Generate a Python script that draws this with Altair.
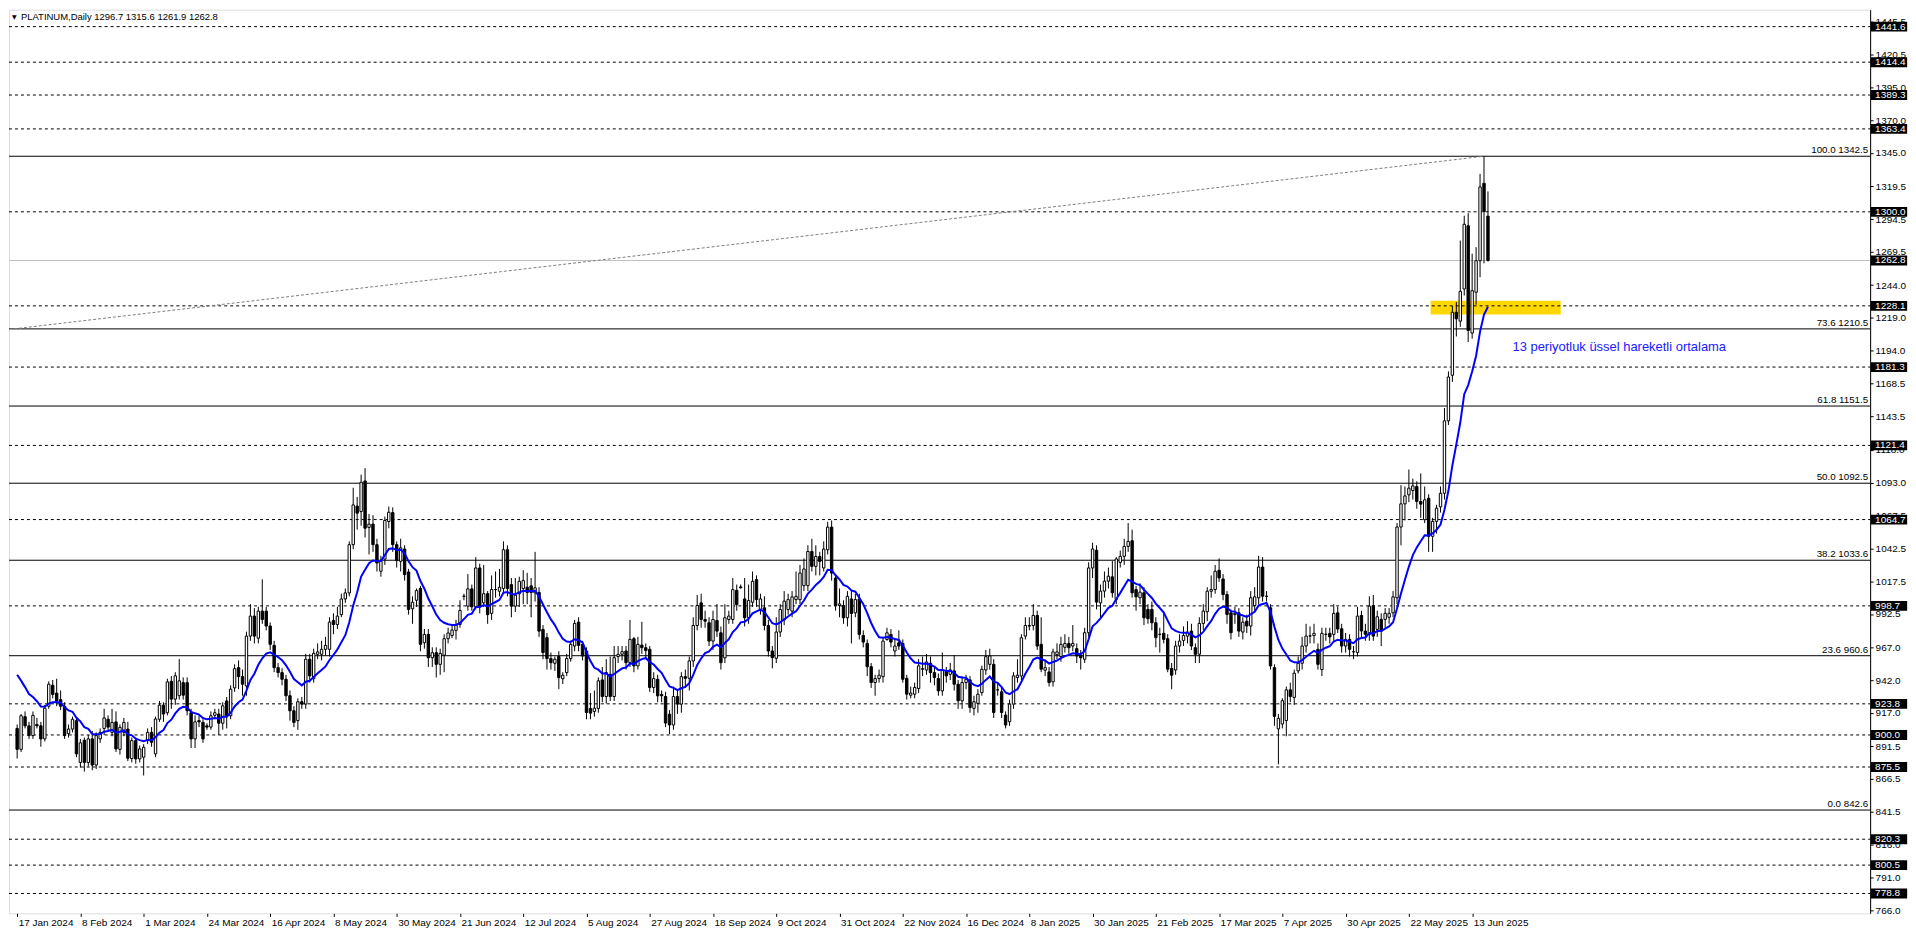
import altair as alt
import pandas as pd

# ---------------- data ----------------
OPEN = [
    905, 889, 914, 907, 899.5, 908, 907, 897, 922, 938,
    932, 927, 922, 901, 904.5, 911, 879, 896, 879, 897,
    877, 897, 905, 912, 902, 910, 889, 902, 904.5, 882,
    895.7, 881.7, 883, 895.7, 902, 885.5, 912, 922.8, 917, 941,
    927.4, 930, 940, 940, 917, 897, 911, 909.6, 907, 906,
    915, 916, 909, 926, 914.7, 936, 951.5, 944.6, 937.5, 975.6,
    990.9, 974, 994.7, 994.7, 983.3, 968.5, 951.5, 947.7, 942.6, 930,
    918.5, 911, 925.4, 923.6, 957.9, 943, 961.7, 961.7, 965.5, 965.5,
    987.5, 984.5, 992, 1004, 1008.6, 1045.5, 1075, 1070.8, 1094.2, 1058.7,
    1061.2, 1045.5, 1025.2, 1034.5, 1063.2, 1070, 1045.5, 1032.8, 1042.2, 1024.6,
    996.5, 1003, 1012, 970.5, 976.9, 959.1, 962.9, 954, 961, 973.6,
    976, 980, 984.5, 1006, 998.5, 1011.7, 998, 1027.7, 1001, 1008,
    993, 1011.2, 1009.9, 1012, 1041.6, 1015, 998.5, 1008, 1012, 1013,
    1014, 1008.6, 1009, 980.7, 974.4, 958.4, 954.8, 960, 943, 947.7,
    958.4, 968, 986.3, 969.3, 964.2, 920.3, 918, 920.3, 942.1, 929.4,
    946.4, 929.4, 960, 961.7, 964.2, 955.3, 973.6, 952.8, 968.7, 966.7,
    965.5, 936.3, 942.6, 931, 929.4, 915.9, 907.6, 929.4, 923.6, 944.6,
    943.3, 956.6, 983.7, 1001, 988.3, 985.8, 971.8, 987.5, 978.1, 959,
    988.3, 988.3, 1010.6, 1013.2, 1004, 989.6, 1001.5, 1018.8, 995.9, 997.2,
    983.7, 964.2, 958.6, 978.7, 988, 995.9, 994.7, 1003.5, 1003.5, 1014.2,
    1014.2, 1040.3, 1028.9, 1036.5, 1027.7, 1041.6, 1058.9, 1020, 999, 999,
    989.6, 1004, 993.4, 1004, 976.1, 970, 952.2, 940.1, 943.1, 944.6,
    973, 976.9, 964.2, 970.5, 970, 943.3, 930.4, 931.2, 935.5, 950.2,
    949.7, 954.8, 947.7, 943.1, 933.7, 948.2, 946.4, 949, 938.8, 926.1,
    940.1, 942.1, 920.3, 924.1, 932.4, 949.7, 954, 954, 934.5, 933,
    915.2, 910.1, 923.6, 943.9, 945.1, 975.6, 983.2, 983.7, 991.4, 969.3,
    949.5, 948.2, 940.6, 961.4, 960, 967, 970, 968, 966, 960.9,
    957.9, 978.2, 1027.7, 1041.2, 1001, 1010, 1017.6, 1020.9, 1003.6, 1032,
    1036.6, 1044.2, 1048.5, 1011.2, 1004.9, 1008.7, 996, 996, 985.8, 976.9,
    977.7, 973.6, 950.8, 949.7, 968, 972.3, 975.6, 979.4, 966.7, 961.7,
    985.3, 994.2, 1009.9, 1011.2, 1025.9, 1019.3, 1007.4, 993.4, 992, 993.4,
    978.7, 987, 983.3, 999, 1004.9, 1028.4, 1006, 997.2, 951.5, 904.7,
    908.4, 911, 934.5, 928.7, 949, 954.8, 968, 975.6, 976, 965.5,
    950, 976.9, 977.7, 976.9, 993.4, 981.2, 968, 973.1, 963.5, 963,
    991.4, 979.4, 976.9, 999, 980.7, 988.4, 988.4, 990, 993.4, 1004.9,
    1059, 1076.7, 1083.6, 1086.9, 1090, 1078.5, 1064.6, 1081, 1051.9, 1063.3,
    1074.4, 1084.8, 1140.2, 1175, 1223.2, 1216.4, 1241, 1289.3, 1207.3, 1238.5,
    1262.6, 1321.8, 1296.7,
]
HIGH = [
    908, 916, 918, 910, 918, 913, 910, 923, 941, 942,
    943, 934, 925, 908, 914, 913, 897, 898, 900, 903,
    902, 905, 920, 915, 920, 918, 908, 913, 910, 898,
    898, 892, 893, 905, 906, 914, 926, 925, 943, 945,
    948, 958, 944, 944, 920, 915, 915, 912, 909, 918,
    920, 920, 925, 929, 938, 954, 957, 950, 979, 1000,
    997, 998, 1019, 998, 986, 972, 955, 951, 946, 934,
    922, 928, 929, 962, 962, 966, 970, 972, 975, 990,
    993, 998, 1008, 1012, 1048, 1089, 1082, 1099, 1104, 1069,
    1068, 1050, 1037, 1067, 1074.7, 1074, 1048, 1050, 1045, 1027,
    1006, 1012, 1014, 981, 981, 967, 967, 966, 977, 982,
    984, 988, 1003, 1008, 1023, 1015, 1036, 1031, 1030, 1010,
    1022, 1025, 1027, 1048, 1045, 1020, 1020, 1021, 1026, 1024,
    1020, 1040, 1013, 984, 978, 963, 960, 964, 948, 962,
    972, 988, 990, 972, 967, 932, 934, 944, 952, 958,
    960, 968, 968, 968, 968, 988, 975, 975, 986.5, 970,
    968, 948, 946, 934, 933, 919, 937, 935, 948, 950,
    960, 990, 1007, 1008, 995, 990, 995, 1000, 983, 1000,
    995, 1020, 1015, 1015, 1020, 1015, 1025, 1022, 1008, 1006,
    988, 968, 990, 1000, 1010, 1008, 1010, 1025, 1030, 1035,
    1045, 1050, 1045, 1040, 1048, 1063, 1064, 1022, 1012, 1003,
    1010, 1010, 1008, 1008, 980, 973, 955, 946, 950, 975,
    982, 981, 974, 980, 973, 946, 937, 940, 958, 960,
    962, 960, 952, 947, 963, 952, 955, 961, 942, 945,
    946, 945, 930, 935, 953, 965, 966, 958, 940, 937,
    918, 927, 948, 958, 977, 990, 990, 1000, 995, 990,
    957, 952, 966, 970, 975, 977, 975, 984, 970, 965,
    982, 1032, 1047, 1045, 1015, 1025, 1028, 1033, 1036, 1041,
    1050, 1062, 1057, 1014, 1016, 1013, 1000, 1002, 990, 982,
    994, 977, 955, 972, 977, 983, 987, 985, 970, 990,
    1000, 1013, 1022, 1030, 1035, 1023, 1010, 996, 998, 997,
    990, 992, 1010, 1013, 1037, 1036, 1010, 1000, 954, 916,
    928, 937, 940, 950, 960, 975, 985, 983, 985, 970,
    982, 982, 982, 1000, 998, 985, 978, 977, 968, 998,
    995, 985, 1006, 1007, 995, 993, 997, 997, 1010, 1062,
    1091, 1090, 1103, 1096, 1094, 1100, 1090, 1084, 1066, 1076,
    1090, 1150, 1178, 1228, 1231, 1278, 1297, 1299, 1268, 1273,
    1329, 1342.5, 1315.6,
]
LOW = [
    882, 887, 905, 897, 897, 905, 891, 895, 920, 928,
    922, 919, 897, 898, 902, 883, 875, 872, 876, 873,
    874, 894, 900, 903, 899, 887, 885, 899, 880, 879,
    878, 879, 869, 893, 891, 883, 910, 910, 915, 920,
    923, 927, 927, 915, 890, 890, 906, 894, 904, 904,
    912, 900, 904, 905, 912, 933, 935, 930, 930, 972,
    970, 970, 985, 980, 965, 948, 944, 938, 926, 911,
    906, 904, 920, 920, 940, 940, 958, 957, 961, 960,
    977, 981, 990, 1001, 1006, 1042, 1057, 1060, 1051, 1038,
    1040, 1025, 1021, 1030, 1058, 1040, 1028, 1025, 1018, 992,
    985, 998, 964, 966, 952, 952, 944, 946, 948, 970,
    974, 973, 982, 1003, 995, 995, 996, 993, 998, 985,
    988, 1005, 1006, 1008, 1006, 990, 994, 998, 1000, 1000,
    990, 1002, 975, 958, 950, 950, 949, 935, 939, 945,
    956, 964, 964, 957, 912, 912, 914, 917, 925, 924,
    926, 926, 955, 957, 950, 952, 948, 950, 962, 958,
    933, 932, 925, 925, 906, 900.7, 904, 916, 917, 936,
    934, 952, 980, 982, 982, 968, 965, 975, 950, 955,
    985, 985, 995, 1012, 983, 985, 998, 998, 992, 980,
    960, 951, 955, 975, 984, 992, 990, 1000, 1000, 1010,
    1010, 1025, 1022, 1022, 1025, 1038, 1018, 995, 990, 985,
    983, 970, 990, 973, 967, 945, 936, 930, 940, 940,
    972, 967, 960, 965, 940, 927, 928, 928, 932, 945,
    946, 940, 938, 930, 930, 940, 942, 934, 920, 920,
    935, 917, 915, 917, 930, 946, 950, 913, 930, 913,
    905, 907, 920, 940, 942, 973, 980, 980, 965, 948,
    945, 937, 937, 958, 956, 963, 962, 964, 955, 950,
    955, 975, 1020, 996, 989, 1005, 1012, 1005, 1000, 1028,
    1030, 1040, 1005, 995, 1000, 984, 985, 980, 967, 963,
    970, 948, 935, 946, 963, 968, 970, 965, 955, 955,
    980, 987, 1005, 1008, 1017, 1003, 985, 973, 985, 975,
    973, 978, 976, 995, 1000, 1002, 1002, 950, 907, 877.5,
    905, 899, 925, 923, 947, 950, 963, 970, 970, 950,
    945, 972, 970, 972, 978, 963, 963, 960, 958, 960,
    975, 972, 972, 972, 975, 968, 982, 985, 990, 1000,
    1045, 1064, 1078, 1080, 1073, 1066, 1062, 1040, 1040, 1054,
    1070, 1080, 1137, 1170, 1204.7, 1212, 1236, 1200.4, 1203, 1229,
    1250, 1260.6, 1261.9,
]
CLOSE = [
    889, 914.7, 907, 899.5, 915, 907, 897, 920.5, 938.8, 931,
    926, 922, 899.5, 904.5, 912, 885.5, 894, 879, 897, 877,
    899.5, 902, 913, 906, 909.6, 889.3, 905.8, 909.6, 882.2, 895.7,
    881.7, 889.3, 890.6, 902, 894.4, 912.2, 922.8, 916, 940.6, 927.4,
    945.2, 941.4, 930.4, 918.5, 897, 910, 910, 897, 906, 914.7,
    917, 909, 922.3, 914.7, 935, 950.7, 944.6, 938.8, 975.6, 990.9,
    975.6, 994.7, 988.3, 983.3, 969.3, 951.5, 947.7, 942.6, 930, 918.5,
    909.6, 925.4, 923.6, 957.9, 945.2, 962.4, 963.5, 965.5, 968.5, 986.3,
    984.5, 990.9, 1004, 1008.6, 1045.5, 1075.9, 1069.6, 1093.2, 1058.1, 1061.2,
    1045.5, 1031.5, 1032.8, 1064, 1070.3, 1045.5, 1033.5, 1043, 1022.6, 996,
    1001.5, 1010.4, 969.3, 976.9, 959.1, 962.9, 954, 962.4, 973.6, 978,
    980.2, 984.5, 995.2, 1006.2, 1011.7, 998, 1027.7, 998, 1008, 992,
    1011.2, 1011.2, 1013, 1041.6, 1012, 998.5, 1006.9, 1017.5, 1018, 1009,
    1009, 1012.5, 979.4, 963, 958.4, 955.3, 957.9, 943.9, 945.7, 958.4,
    969.3, 985.3, 968.5, 960.4, 917.2, 916.7, 920.5, 941.4, 929.4, 947.7,
    929.4, 959.1, 961.7, 963.7, 955.3, 973.1, 952.8, 969.3, 966.7, 964.5,
    936.3, 943.1, 929.9, 930, 909.1, 907.6, 929.4, 923.6, 944.6, 943.3,
    956.6, 983.7, 999, 988.3, 987, 971.8, 988.3, 979.4, 955.3, 989.6,
    990.9, 1011.1, 999.7, 1012.5, 989.6, 1002.8, 1017.5, 1003.5, 1004, 983.7,
    964.2, 959.1, 978.7, 995.9, 1002.3, 1003.5, 1005.6, 1006, 1023.8, 1026.9,
    1040.3, 1028.9, 1036.5, 1032.7, 1042.1, 1058.9, 1023.8, 999, 1000.2, 989.6,
    1006, 992.9, 1003.5, 976.9, 971, 952.2, 940.1, 943.1, 945.7, 971.8,
    978.1, 971, 968, 968, 942.6, 931.2, 932, 936.3, 952.8, 950.7,
    955.8, 947.7, 943.9, 933.7, 949.7, 945.2, 949.7, 938.8, 926.1, 940.1,
    942.6, 921, 925.4, 931.2, 950.2, 959.9, 960.4, 917.2, 934.5, 917.2,
    907.6, 923.6, 945.2, 945.7, 974.3, 983.7, 983.7, 991.4, 968, 950.3,
    951.5, 940.1, 963.5, 963.5, 969.3, 970, 966.7, 970, 960.4, 959.1,
    978.2, 1027.7, 1042.2, 1001.6, 1010, 1017.6, 1021.4, 1008.7, 1034.6, 1036.6,
    1044.2, 1048, 1008.7, 1005.6, 1009.2, 989.6, 988.9, 985.8, 974.4, 977,
    973.1, 950.3, 945.7, 968, 971.8, 976.1, 978.7, 968, 961.7, 985.3,
    994.7, 1009.9, 1011.2, 1025.2, 1020.1, 1007.4, 992.2, 978.2, 993, 979.4,
    986.3, 983.3, 1004.9, 1005.6, 1028.4, 1006.1, 1006.1, 952.8, 914.2, 912.7,
    926.2, 934.5, 929.4, 947.2, 954.8, 968, 975.6, 975.8, 977.7, 954,
    977.7, 977, 975, 993, 981, 968, 973.1, 965.5, 963.7, 990.9,
    979.5, 977, 998.5, 975.6, 990.4, 979.4, 993, 993, 1005.6, 1059,
    1076.7, 1082.8, 1088.7, 1090.4, 1078.5, 1076.5, 1079.8, 1051.9, 1063.3, 1073.4,
    1084.8, 1140.2, 1173.7, 1223.2, 1218.2, 1239.2, 1290.5, 1209.3, 1239.7, 1262.6,
    1319, 1300.2, 1262.8,
]

DATE_LABELS = [
    "17 Jan 2024", "8 Feb 2024", "1 Mar 2024", "24 Mar 2024", "16 Apr 2024",
    "8 May 2024", "30 May 2024", "21 Jun 2024", "12 Jul 2024", "5 Aug 2024",
    "27 Aug 2024", "18 Sep 2024", "9 Oct 2024", "31 Oct 2024", "22 Nov 2024",
    "16 Dec 2024", "8 Jan 2025", "30 Jan 2025", "21 Feb 2025", "17 Mar 2025",
    "7 Apr 2025", "30 Apr 2025", "22 May 2025", "13 Jun 2025",
]
BARS_PER_LABEL = 16

PRICE_TICKS = [
    1445.5, 1420.5, 1395.0, 1370.0, 1345.0, 1319.5, 1294.5, 1269.5, 1244.0,
    1219.0, 1194.0, 1168.5, 1143.5, 1118.0, 1093.0, 1067.5, 1042.5, 1017.5,
    992.5, 967.0, 942.0, 917.0, 891.5, 866.5, 841.5, 816.0, 791.0, 766.0,
]
DASHED_LEVELS = [
    1441.6, 1414.4, 1389.3, 1363.4, 1300.0, 1228.1, 1181.3, 1121.4,
    1064.7, 998.7, 923.8, 900.0, 875.5, 820.3, 800.5, 778.8,
]
CURRENT_PRICE = 1262.8
FIB_PCT = ["100.0", "73.6", "61.8", "50.0", "38.2", "23.6", "0.0"]
FIB_PRICE = [1342.5, 1210.5, 1151.5, 1092.5, 1033.6, 960.6, 842.6]

EMA_PERIOD = 13
EMA_START = 946.0          # EMA value read at the first visible bar

TREND_BAR = [-0.8, 371]
TREND_PRICE = [1210.5, 1342.5]

ZONE_BAR = [357.5, 390.4]
ZONE_PRICE = [1221.4, 1232.1]

NOTE_TEXT = "13 periyotluk üssel hareketli ortalama"
NOTE_BAR = 378.2
NOTE_PRICE = 1196.3

TITLE_TEXT = "PLATINUM,Daily  1296.7 1315.6 1261.9 1262.8"

# ---------------- layout / style ----------------
W, H = 1868, 907
FONT = "Liberation Sans"
X_DOMAIN = [-0.8, 467.4]
Y_DOMAIN = [763.6, 1454.55]
BOX_PATH = "M-1.65,-0.45H1.65V0.45H-1.65Z"

n = len(CLOSE)
alpha = 2.0 / (EMA_PERIOD + 1)
ema = [EMA_START]
for c in CLOSE[1:]:
    ema.append(alpha * c + (1 - alpha) * ema[-1])

candles = pd.DataFrame({"i": list(range(n)), "o": OPEN, "h": HIGH,
                        "l": LOW, "c": CLOSE, "ema": ema})

xscale = alt.Scale(domain=X_DOMAIN, nice=False, zero=False)
yscale = alt.Scale(domain=Y_DOMAIN, nice=False, zero=False)

label_expr = ("[" + ",".join("'%s'" % s for s in DATE_LABELS) + "]"
              "[round(datum.value / %d)]" % BARS_PER_LABEL)
xaxis = alt.Axis(values=[BARS_PER_LABEL * k for k in range(len(DATE_LABELS))],
                 labelExpr=label_expr, orient="bottom", domain=False, grid=False,
                 ticks=True, tickSize=3, tickColor="black", labelAlign="left",
                 labelBaseline="top", labelPadding=1, labelOffset=1,
                 labelFont=FONT, labelFontSize=10, labelColor="black",
                 labelOverlap=False, labelFlush=False, title=None)
yaxis = alt.Axis(values=PRICE_TICKS, format=".1f", orient="right", domain=True,
                 domainColor="black", grid=False, ticks=True, tickSize=3,
                 tickColor="black", labelPadding=2, labelFont=FONT,
                 labelFontSize=10, labelColor="black", labelOverlap=False,
                 labelFlush=False, title=None)


def X(f):
    return alt.X(f, type="quantitative", scale=xscale, axis=xaxis, title=None)


def Y(f):
    return alt.Y(f, type="quantitative", scale=yscale, axis=yaxis, title=None)


zone = alt.Chart(pd.DataFrame({"a": [ZONE_BAR[0]], "b": [ZONE_BAR[1]],
                               "p": [ZONE_PRICE[0]], "q": [ZONE_PRICE[1]]})
                 ).mark_rect(color="#FFD700").encode(
    x=X("a"), x2="b", y=Y("p"), y2="q")

cur_line = alt.Chart(pd.DataFrame({"p": [CURRENT_PRICE]})).mark_rule(
    color="#c0c0c0", strokeWidth=1).encode(
    y=Y("p"), x=alt.value(0), x2=alt.value(W))

dashed = alt.Chart(pd.DataFrame({"p": DASHED_LEVELS})).mark_rule(
    color="black", strokeWidth=1, strokeDash=[3, 3]).encode(
    y=Y("p"), x=alt.value(0), x2=alt.value(W))

fib_df = pd.DataFrame({"p": FIB_PRICE,
                       "lab": ["%s %s" % (a, b) for a, b in zip(FIB_PCT, FIB_PRICE)]})
fib_lines = alt.Chart(fib_df).mark_rule(color="black", strokeWidth=1).encode(
    y=Y("p"), x=alt.value(0), x2=alt.value(W))
fib_text = alt.Chart(fib_df).mark_text(
    align="right", baseline="bottom", dy=-1, font=FONT, fontSize=9.8,
    color="black").encode(y=Y("p"), x=alt.value(W - 2), text="lab:N")

trend = alt.Chart(pd.DataFrame({"i": TREND_BAR, "p": TREND_PRICE})).mark_line(
    color="#808080", strokeWidth=1, strokeDash=[3, 2]).encode(x=X("i"), y=Y("p"))

base = alt.Chart(candles)
wicks = base.mark_rule(color="black", strokeWidth=1).encode(
    x=X("i"), y=Y("l"), y2="h")
bodies = base.mark_bar(size=2.4, stroke="black", strokeWidth=1).encode(
    x=X("i"), y=Y("o"), y2="c",
    fill=alt.condition("datum.c < datum.o", alt.value("black"), alt.value("white")))
ema_line = base.mark_line(color="#0000ff", strokeWidth=2).encode(
    x=X("i"), y=Y("ema"))

note = alt.Chart(pd.DataFrame({"i": [NOTE_BAR], "p": [NOTE_PRICE], "t": [NOTE_TEXT]})
                 ).mark_text(align="left", baseline="middle", font=FONT,
                             fontSize=13, color="#2020ff").encode(
    x=X("i"), y=Y("p"), text="t:N")

box_levels = DASHED_LEVELS + [CURRENT_PRICE]
box_df = pd.DataFrame({"p": box_levels, "lab": ["%.1f" % v for v in box_levels]})
boxes = alt.Chart(box_df).mark_point(
    shape=BOX_PATH, size=484, filled=True, color="black", opacity=1,
    strokeWidth=0).encode(y=Y("p"), x=alt.value(W + 19))
box_text = alt.Chart(box_df).mark_text(
    align="left", baseline="middle", font=FONT, fontSize=10,
    color="white").encode(y=Y("p"), x=alt.value(W + 5), text="lab:N")

title_df = pd.DataFrame({"t": [TITLE_TEXT], "s": ["\u25bc"]})
title = alt.Chart(title_df).mark_text(
    align="left", baseline="middle", font=FONT, fontSize=9.5,
    color="black").encode(x=alt.value(12), y=alt.value(7), text="t:N")
tri = alt.Chart(title_df).mark_text(
    align="left", baseline="middle", font="DejaVu Sans", fontSize=6,
    color="black").encode(x=alt.value(3), y=alt.value(7), text="s:N")

chart = alt.layer(
    zone, cur_line, dashed, fib_lines, fib_text, trend, wicks, bodies,
    ema_line, note, boxes, box_text, title, tri
).properties(width=W, height=H, padding=0).configure_view(
    stroke="black", strokeWidth=1
).configure(background="white")

chart.save("out.html", embed_options={"renderer": "svg", "actions": False})
